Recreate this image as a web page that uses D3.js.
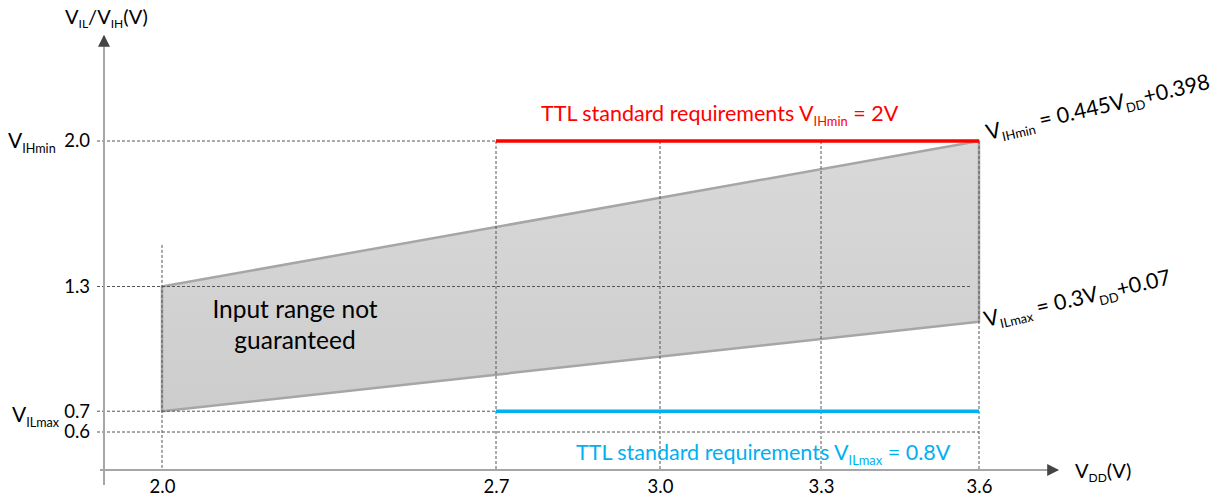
<!DOCTYPE html>
<html>
<head>
<meta charset="utf-8">
<script src="https://cdn.jsdelivr.net/npm/d3@7"></script>
<style>
  body { margin: 0; background: #fff; }
  text { font-family: Lato, "Open Sans", sans-serif; }
</style>
</head>
<body>
<svg id="chart"></svg>
<script>
// values
var vddTicks = [2.0, 2.7, 3.0, 3.3, 3.6],
    vTicks = [0.6, 0.7, 1.3, 2.0],
    gridVdd = [2.7, 3.0, 3.3, 3.6],
    upperEdge = [{vdd: 2.0, v: 1.3}, {vdd: 3.6, v: 2.0}],
    lowerEdge = [{vdd: 2.0, v: 0.7}, {vdd: 3.6, v: 1.13}],
    ttlHigh = [{vdd: 2.7, v: 2.0}, {vdd: 3.6, v: 2.0}],
    ttlLow = [{vdd: 2.7, v: 0.7}, {vdd: 3.6, v: 0.7}];

var width = 1219, height = 497;

var svg = d3.select("#chart")
    .attr("width", width)
    .attr("height", height);

// the x spacing in the drawing is schematic, so a piecewise scale is used
var x = d3.scaleLinear()
    .domain(vddTicks)
    .range([162, 496, 660, 821, 979]);
var y = d3.scaleLinear()
    .domain([0.6, 2.0])
    .range([432, 141]);

var axisX = 104, axisY = 470;

// writes a label made of normal and subscript pieces
function richText(sel, parts, size) {
  parts.forEach(function(p, i) {
    var t = sel.append("tspan").text(p[0]);
    if (p[1] == "sub") {
      t.attr("font-size", size * 0.6).attr("dy", size * 0.22);
    } else {
      t.attr("font-size", size);
      if (i > 0 && parts[i - 1][1] == "sub") t.attr("dy", -size * 0.22);
    }
  });
  return sel;
}

var line = d3.line()
    .x(function(d) { return x(d.vdd); })
    .y(function(d) { return y(d.v); });

// region between the two limits
var grad = svg.append("defs").append("linearGradient")
    .attr("id", "fill").attr("x1", 0).attr("y1", 0).attr("x2", 0).attr("y2", 1);
grad.append("stop").attr("offset", "0%").attr("stop-color", "#d9d9d9");
grad.append("stop").attr("offset", "100%").attr("stop-color", "#cdcdcd");

var area = upperEdge.concat(lowerEdge.slice().reverse());
svg.append("path")
    .attr("d", line(area) + "Z")
    .attr("fill", "url(#fill)")
    .attr("stroke", "#a6a6a6")
    .attr("stroke-width", 2.5)
    .attr("stroke-linejoin", "round");

// dashed guides, drawn over the region
var dash = svg.append("g")
    .attr("stroke", "#555")
    .attr("stroke-width", 1)
    .attr("stroke-dasharray", "3,2");

dash.selectAll("line.h")
  .data(vTicks).enter()
  .append("line")
    .attr("class", "h")
    .attr("x1", 97)
    .attr("x2", function(d) { return d == 1.3 ? x(3.6) - 8 : x(3.6); })
    .attr("y1", function(d) { return y(d); })
    .attr("y2", function(d) { return y(d); });

dash.selectAll("line.v")
  .data(gridVdd).enter()
  .append("line")
    .attr("class", "v")
    .attr("x1", function(d) { return x(d); })
    .attr("x2", function(d) { return x(d); })
    .attr("y1", y(2.0))
    .attr("y2", axisY);

dash.append("line")
    .attr("x1", x(2.0)).attr("x2", x(2.0))
    .attr("y1", y(1.5)).attr("y2", axisY);

svg.append("path")
    .attr("d", line(ttlHigh))
    .attr("stroke", "#ff0000")
    .attr("stroke-width", 3.5)
    .attr("fill", "none");

svg.append("path")
    .attr("d", line(ttlLow))
    .attr("stroke", "#00b0f0")
    .attr("stroke-width", 3.5)
    .attr("fill", "none");

// axes
svg.select("defs").append("marker")
    .attr("id", "arrow")
    .attr("viewBox", "0 0 10 10")
    .attr("refX", 9).attr("refY", 5)
    .attr("markerWidth", 6).attr("markerHeight", 6)
    .attr("markerUnits", "strokeWidth")
    .attr("orient", "auto")
  .append("path")
    .attr("d", "M0,0L10,5L0,10Z")
    .attr("fill", "#444");

svg.append("line")
    .attr("x1", axisX).attr("x2", axisX)
    .attr("y1", 485).attr("y2", 36)
    .attr("stroke", "#a6a6a6").attr("stroke-width", 2)
    .attr("marker-end", "url(#arrow)");

svg.append("line")
    .attr("x1", 100).attr("x2", 1058)
    .attr("y1", axisY).attr("y2", axisY)
    .attr("stroke", "#a6a6a6").attr("stroke-width", 2)
    .attr("marker-end", "url(#arrow)");

var gx = svg.append("g")
    .attr("transform", "translate(0," + axisY + ")")
    .call(d3.axisBottom(x).tickValues(vddTicks).tickSize(0).tickPadding(10)
      .tickFormat(d3.format(".1f")));
gx.select(".domain").remove();
gx.selectAll("text").attr("font-size", 18.5).attr("fill", "#000")
    .attr("font-family", "Lato, sans-serif");

var gy = svg.append("g")
    .attr("transform", "translate(90,0)")
    .call(d3.axisLeft(y).tickValues(vTicks).tickSize(0).tickPadding(0)
      .tickFormat(d3.format(".1f")));
gy.select(".domain").remove();
gy.selectAll("text").attr("font-size", 18.5).attr("fill", "#000")
    .attr("font-family", "Lato, sans-serif");

// axis titles
richText(svg.append("text").attr("x", 65).attr("y", 24),
  [["V", ""], ["IL", "sub"], ["/V", ""], ["IH", "sub"], ["(V)", ""]], 20);

richText(svg.append("text").attr("x", 1075).attr("y", 478),
  [["V", ""], ["DD", "sub"], ["(V)", ""]], 20);

richText(svg.append("text").attr("x", 8).attr("y", y(2.0) + 7),
  [["V", ""], ["IHmin", "sub"]], 21);

richText(svg.append("text").attr("x", 12).attr("y", y(0.7) + 11),
  [["V", ""], ["ILmax", "sub"]], 21);

// requirement labels
richText(svg.append("text").attr("x", 541).attr("y", 121).attr("fill", "#ff0000"),
  [["TTL standard requirements V", ""], ["IHmin", "sub"], [" = 2V", ""]], 21.5);

richText(svg.append("text").attr("x", 576).attr("y", 460).attr("fill", "#00b0f0"),
  [["TTL standard requirements V", ""], ["ILmax", "sub"], [" = 0.8V", ""]], 21.5);

// formulas along the right edge
richText(svg.append("text")
    .attr("transform", "translate(988,140) rotate(-13)"),
  [["V", ""], ["IHmin", "sub"], [" = 0.445V", ""], ["DD", "sub"], ["+0.398", ""]], 21.5);

richText(svg.append("text")
    .attr("transform", "translate(986,327) rotate(-13)"),
  [["V", ""], ["ILmax", "sub"], [" = 0.3V", ""], ["DD", "sub"], ["+0.07", ""]], 21.5);

// note inside the region
svg.append("text")
    .attr("x", 295).attr("y", 318)
    .attr("text-anchor", "middle")
    .attr("font-size", 24.5)
    .text("Input range not");
svg.append("text")
    .attr("x", 295).attr("y", 349)
    .attr("text-anchor", "middle")
    .attr("font-size", 24.5)
    .text("guaranteed");
</script>
</body>
</html>
